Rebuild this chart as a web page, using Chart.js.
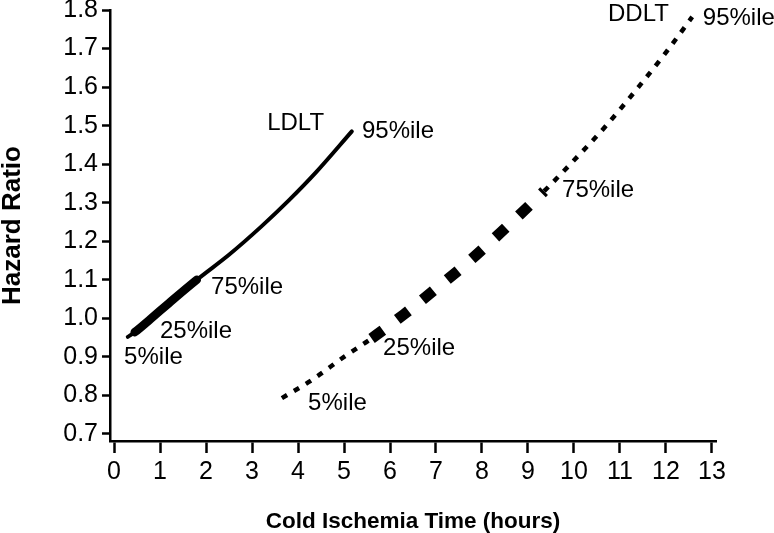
<!DOCTYPE html>
<html>
<head>
<meta charset="utf-8">
<script src="https://cdn.jsdelivr.net/npm/chart.js@4.4.1/dist/chart.umd.min.js"></script>
<style>
  html, body { margin: 0; padding: 0; background: #fff; }
  #wrap { width: 774px; height: 533px; }
</style>
</head>
<body>
<div id="wrap"><canvas id="c" width="774" height="533"></canvas></div>
<script>
// ---- data ----
const xTicks = [0,1,2,3,4,5,6,7,8,9,10,11,12,13];
const yTicks = [0.7,0.8,0.9,1.0,1.1,1.2,1.3,1.4,1.5,1.6,1.7,1.8];

const ldltHours = [0.30, 0.45, 0.80, 1.20, 1.80, 2.50, 3.20, 3.80, 4.40, 5.17];
const ldltHR    = [0.952, 0.964, 0.999, 1.040, 1.100, 1.165, 1.238, 1.306, 1.380, 1.485];
const ldltIqr   = [1, 4];   // index of 25%ile and 75%ile points

const ddltHours = [3.65, 4.30, 5.00, 5.60, 6.30, 7.00, 7.70, 8.40, 9.35, 10.00, 10.70, 11.40, 12.00, 12.57];
const ddltHR    = [0.793, 0.840, 0.900, 0.948, 1.010, 1.077, 1.146, 1.222, 1.330, 1.410, 1.500, 1.600, 1.690, 1.782];
const ddltIqr   = [3, 8];

const labelText  = ['LDLT', '95%ile', '75%ile', '25%ile', '5%ile', 'DDLT', '95%ile', '75%ile', '25%ile', '5%ile'];
const labelHours = [3.33, 5.39, 2.11, 1.00, 0.22, 10.74, 12.80, 9.74, 5.85, 4.22];
const labelHR    = [1.507, 1.485, 1.081, 0.967, 0.900, 1.789, 1.779, 1.333, 0.923, 0.780];

// ---- build ----
const toXY = (xs, ys) => xs.map((x, i) => ({x: x, y: ys[i]}));
const FONT = "'Liberation Sans', Arial, Helvetica, sans-serif";

const annotate = {
  id: 'annotate',
  afterDatasetsDraw(chart) {
    const {ctx, scales: {x, y}} = chart;
    ctx.save();
    ctx.fillStyle = '#000';
    ctx.font = '24px ' + FONT;
    ctx.textAlign = 'left';
    ctx.textBaseline = 'middle';
    labelText.forEach((t, i) => {
      ctx.fillText(t, x.getPixelForValue(labelHours[i]), y.getPixelForValue(labelHR[i]));
    });
    ctx.restore();
  }
};

const inIqr = (c, r) => c.p0DataIndex >= r[0] && c.p1DataIndex <= r[1];

new Chart(document.getElementById('c'), {
  type: 'line',
  data: {
    datasets: [
      {
        label: 'LDLT',
        data: toXY(ldltHours, ldltHR),
        borderColor: '#000',
        borderWidth: 4,
        pointRadius: 0,
        cubicInterpolationMode: 'monotone',
        borderCapStyle: 'round',
        segment: {
          borderWidth: c => inIqr(c, ldltIqr) ? 8.5 : 4
        }
      },
      {
        label: 'DDLT',
        data: toXY(ddltHours, ddltHR),
        borderColor: '#000',
        borderWidth: 4.5,
        borderDash: [6, 8],
        pointRadius: 0,
        cubicInterpolationMode: 'monotone',
        borderCapStyle: 'butt',
        segment: {
          borderWidth: c => inIqr(c, ddltIqr) ? 11 : 4.5,
          borderDash: c => inIqr(c, ddltIqr) ? [14, 18] : [6, 8]
        }
      }
    ]
  },
  options: {
    responsive: false,
    animation: false,
    layout: { padding: { top: 10, right: 58, left: 0, bottom: 0 } },
    plugins: { legend: { display: false }, tooltip: { enabled: false } },
    scales: {
      x: {
        type: 'linear',
        min: -0.087,
        max: 13.087,
        afterBuildTicks: s => { s.ticks = xTicks.map(v => ({value: v})); },
        afterFit: s => { s.height = 92; s.paddingLeft = 0; s.paddingRight = 0; },
        grid: { drawOnChartArea: false, drawTicks: true, tickLength: 12, tickWidth: 2.5, tickColor: '#000' },
        border: { display: true, color: '#000', width: 2.5 },
        ticks: { color: '#000', font: { family: FONT, size: 25, lineHeight: 1 }, padding: 7, maxRotation: 0, autoSkip: false },
        title: { display: true, text: 'Cold Ischemia Time (hours)', color: '#000',
                 font: { family: FONT, size: 22.5, weight: 'bold', lineHeight: 1 }, padding: { top: 24, bottom: 0 } }
      },
      y: {
        type: 'linear',
        min: 0.6818,
        max: 1.8,
        afterBuildTicks: s => { s.ticks = yTicks.map(v => ({value: v})); },
        afterFit: s => { s.width = 110; s.paddingTop = 0; s.paddingBottom = 0; },
        grid: { drawOnChartArea: false, drawTicks: true, tickLength: 8, tickWidth: 2.5, tickColor: '#000' },
        border: { display: true, color: '#000', width: 2.5 },
        ticks: { color: '#000', font: { family: FONT, size: 25, lineHeight: 1 }, padding: 4,
                 callback: v => Number(v).toFixed(1) },
        title: { display: true, text: 'Hazard Ratio', color: '#000',
                 font: { family: FONT, size: 26, weight: 'bold', lineHeight: 1 }, padding: { top: 0, bottom: 0 } }
      }
    }
  },
  plugins: [annotate]
});
</script>
</body>
</html>
